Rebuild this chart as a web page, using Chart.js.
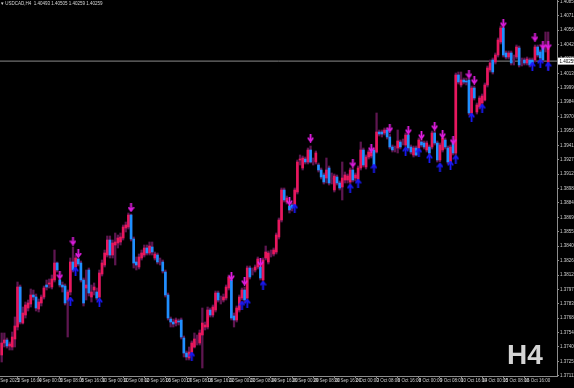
<!DOCTYPE html>
<html><head><meta charset="utf-8">
<script src="https://cdn.jsdelivr.net/npm/chart.js@4.4.1/dist/chart.umd.min.js"></script>
<style>
html,body{margin:0;padding:0;background:#000;width:574px;height:388px;overflow:hidden}
#wrap{position:relative;width:574px;height:388px;background:#000}
canvas{position:absolute;left:0;top:0}
#hdr{position:absolute;left:1px;top:1px;font-size:4.5px;font-family:"Liberation Sans Narrow","Liberation Sans",Arial,sans-serif;color:#d8d8d8;white-space:nowrap;line-height:5px}
#tf{position:absolute;left:507px;top:341px;font-weight:bold;font-size:28px;font-family:"Liberation Sans",Arial,sans-serif;line-height:28px;color:#d4d4d4}
</style></head><body>
<div id="wrap"><canvas id="c" width="574" height="388"></canvas>
<div id="hdr">▾ USDCAD,H4&nbsp; 1.40493 1.40505 1.40259 1.40259</div>
<div id="tf">H4</div></div>
<script>
const opens = [
1.3732,1.3744,1.3747,1.3741,1.3740,1.3748,1.3760,1.3800,1.3764,1.3772,
1.3779,1.3783,1.3792,1.3790,1.3778,1.3784,1.3790,1.3802,1.3803,1.3800,
1.3807,1.3824,1.3807,1.3802,1.3801,1.3787,1.3795,1.3825,1.3820,1.3828,
1.3824,1.3807,1.3799,1.3817,1.3790,1.3797,1.3795,1.3790,1.3813,1.3822,
1.3832,1.3847,1.3832,1.3842,1.3844,1.3845,1.3849,1.3859,1.3860,1.3872,
1.3848,1.3825,1.3820,1.3829,1.3832,1.3839,1.3834,1.3840,1.3829,1.3832,
1.3826,1.3825,1.3815,1.3792,1.3768,1.3765,1.3764,1.3766,1.3767,1.3749,
1.3734,1.3729,1.3735,1.3740,1.3746,1.3744,1.3752,1.3760,1.3760,1.3777,
1.3772,1.3777,1.3794,1.3788,1.3787,1.3789,1.3799,1.3807,1.3771,1.3767,
1.3777,1.3789,1.3797,1.3789,1.3819,1.3816,1.3817,1.3820,1.3820,1.3807,
1.3829,1.3825,1.3834,1.3833,1.3835,1.3850,1.3867,1.3897,1.3885,1.3881,
1.3882,1.3882,1.3895,1.3927,1.3919,1.3928,1.3925,1.3937,1.3926,1.3925,
1.3922,1.3917,1.3912,1.3909,1.3919,1.3908,1.3897,1.3910,1.3904,1.3900,
1.3907,1.3907,1.3905,1.3917,1.3909,1.3908,1.3919,1.3937,1.3920,1.3930,
1.3931,1.3937,1.3935,1.3955,1.3955,1.3954,1.3957,1.3950,1.3940,1.3938,
1.3939,1.3945,1.3945,1.3942,1.3952,1.3940,1.3932,1.3939,1.3939,1.3945,
1.3944,1.3937,1.3940,1.3940,1.3954,1.3944,1.3927,1.3937,1.3947,1.3939,
1.3925,1.3944,1.3934,1.4012,1.4002,1.4007,1.4006,1.4007,1.3974,1.3999,
1.3975,1.3980,1.3984,1.3987,1.4002,1.4017,1.4027,1.4025,1.4032,1.4045,
1.4059,1.4034,1.4030,1.4034,1.4027,1.4030,1.4039,1.4025,1.4027,1.4024,
1.4027,1.4027,1.4027,1.4040,1.4035,1.4039,1.4040,1.4025];
const highs = [
1.3754,1.3754,1.3749,1.3745,1.3755,1.3770,1.3805,1.3802,1.3780,1.3785,
1.3787,1.3798,1.3797,1.3793,1.3788,1.3792,1.3801,1.3807,1.3808,1.3812,
1.3837,1.3825,1.3808,1.3805,1.3803,1.3797,1.3829,1.3840,1.3832,1.3829,
1.3826,1.3809,1.3817,1.3819,1.3802,1.3804,1.3799,1.3817,1.3827,1.3837,
1.3851,1.3851,1.3847,1.3854,1.3852,1.3854,1.3862,1.3865,1.3874,1.3873,
1.3850,1.3830,1.3833,1.3837,1.3842,1.3842,1.3845,1.3845,1.3835,1.3834,
1.3829,1.3827,1.3817,1.3794,1.3770,1.3768,1.3769,1.3768,1.3769,1.3751,
1.3736,1.3740,1.3746,1.3754,1.3752,1.3757,1.3779,1.3765,1.3780,1.3779,
1.3782,1.3796,1.3796,1.3791,1.3793,1.3802,1.3812,1.3809,1.3774,1.3781,
1.3792,1.3799,1.3800,1.3821,1.3821,1.3819,1.3822,1.3830,1.3821,1.3829,
1.3841,1.3836,1.3837,1.3839,1.3854,1.3869,1.3899,1.3899,1.3891,1.3882,
1.3884,1.3899,1.3927,1.3932,1.3931,1.3930,1.3939,1.3941,1.3929,1.3936,
1.3924,1.3919,1.3914,1.3929,1.3921,1.3914,1.3913,1.3912,1.3906,1.3925,
1.3915,1.3913,1.3919,1.3919,1.3914,1.3921,1.3945,1.3939,1.3932,1.3937,
1.3936,1.3939,1.3974,1.3957,1.3957,1.3959,1.3959,1.3953,1.3942,1.3941,
1.3957,1.3947,1.3948,1.3954,1.3953,1.3942,1.3941,1.3941,1.3949,1.3948,
1.3946,1.3946,1.3942,1.3956,1.3956,1.3946,1.3944,1.3951,1.3949,1.3941,
1.3942,1.3945,1.4014,1.4015,1.4015,1.4009,1.4009,1.4008,1.4001,1.4001,
1.3984,1.3991,1.3993,1.4004,1.4021,1.4027,1.4029,1.4034,1.4049,1.4061,
1.4060,1.4036,1.4036,1.4036,1.4032,1.4042,1.4041,1.4029,1.4029,1.4030,
1.4029,1.4029,1.4042,1.4042,1.4037,1.4041,1.4055,1.4055];
const lows = [
1.3725,1.3740,1.3739,1.3737,1.3737,1.3740,1.3757,1.3763,1.3763,1.3769,
1.3776,1.3780,1.3787,1.3776,1.3775,1.3781,1.3788,1.3797,1.3799,1.3798,
1.3805,1.3815,1.3800,1.3795,1.3782,1.3750,1.3792,1.3815,1.3817,1.3821,
1.3805,1.3781,1.3787,1.3791,1.3785,1.3792,1.3787,1.3789,1.3811,1.3820,
1.3830,1.3829,1.3829,1.3822,1.3839,1.3842,1.3847,1.3855,1.3858,1.3846,
1.3819,1.3817,1.3818,1.3827,1.3830,1.3832,1.3832,1.3832,1.3827,1.3823,
1.3822,1.3814,1.3790,1.3767,1.3760,1.3760,1.3761,1.3762,1.3748,1.3730,
1.3727,1.3727,1.3734,1.3739,1.3742,1.3742,1.3719,1.3757,1.3758,1.3770,
1.3770,1.3775,1.3785,1.3783,1.3785,1.3787,1.3797,1.3767,1.3760,1.3765,
1.3775,1.3787,1.3784,1.3788,1.3808,1.3812,1.3815,1.3818,1.3807,1.3806,
1.3827,1.3823,1.3830,1.3831,1.3833,1.3848,1.3865,1.3885,1.3883,1.3874,
1.3876,1.3881,1.3893,1.3922,1.3917,1.3923,1.3923,1.3924,1.3922,1.3923,
1.3915,1.3908,1.3903,1.3904,1.3902,1.3903,1.3895,1.3902,1.3897,1.3887,
1.3904,1.3904,1.3903,1.3905,1.3906,1.3907,1.3917,1.3920,1.3918,1.3928,
1.3929,1.3921,1.3934,1.3951,1.3950,1.3952,1.3948,1.3938,1.3935,1.3935,
1.3934,1.3938,1.3942,1.3940,1.3937,1.3933,1.3930,1.3931,1.3938,1.3940,
1.3938,1.3935,1.3932,1.3938,1.3942,1.3925,1.3925,1.3935,1.3938,1.3923,
1.3923,1.3932,1.3932,1.4003,1.4000,1.4003,1.4002,1.3972,1.3972,1.3987,
1.3973,1.3978,1.3982,1.3986,1.4000,1.4015,1.4013,1.4023,1.4030,1.4043,
1.4030,1.4028,1.4028,1.4022,1.4022,1.4028,1.4020,1.4021,1.4022,1.4022,
1.4020,1.4021,1.4025,1.4030,1.4027,1.4025,1.4035,1.4017];
const closes = [
1.3744,1.3747,1.3741,1.3743,1.3750,1.3761,1.3800,1.3765,1.3774,1.3782,
1.3784,1.3792,1.3790,1.3779,1.3785,1.3790,1.3799,1.3800,1.3804,1.3808,
1.3824,1.3817,1.3802,1.3800,1.3784,1.3795,1.3825,1.3817,1.3829,1.3823,
1.3807,1.3784,1.3802,1.3794,1.3795,1.3800,1.3789,1.3814,1.3824,1.3834,
1.3847,1.3832,1.3844,1.3845,1.3849,1.3850,1.3860,1.3862,1.3872,1.3848,
1.3824,1.3822,1.3830,1.3834,1.3839,1.3834,1.3841,1.3835,1.3833,1.3825,
1.3826,1.3816,1.3792,1.3769,1.3765,1.3763,1.3767,1.3765,1.3750,1.3734,
1.3730,1.3735,1.3744,1.3748,1.3746,1.3754,1.3764,1.3762,1.3777,1.3772,
1.3780,1.3794,1.3787,1.3788,1.3790,1.3800,1.3810,1.3769,1.3767,1.3779,
1.3790,1.3797,1.3787,1.3819,1.3810,1.3816,1.3820,1.3828,1.3809,1.3827,
1.3835,1.3834,1.3834,1.3837,1.3852,1.3867,1.3897,1.3887,1.3889,1.3877,
1.3879,1.3897,1.3925,1.3928,1.3929,1.3925,1.3937,1.3925,1.3926,1.3934,
1.3917,1.3910,1.3905,1.3917,1.3904,1.3908,1.3911,1.3904,1.3899,1.3909,
1.3912,1.3911,1.3917,1.3907,1.3912,1.3919,1.3937,1.3922,1.3930,1.3935,
1.3935,1.3922,1.3955,1.3953,1.3953,1.3957,1.3950,1.3940,1.3937,1.3938,
1.3946,1.3940,1.3945,1.3952,1.3939,1.3935,1.3939,1.3932,1.3947,1.3942,
1.3940,1.3944,1.3934,1.3954,1.3944,1.3927,1.3942,1.3949,1.3940,1.3925,
1.3940,1.3934,1.4012,1.4005,1.4007,1.4005,1.4005,1.3974,1.3999,1.3989,
1.3982,1.3989,1.3991,1.4002,1.4019,1.4024,1.4015,1.4032,1.4047,1.4059,
1.4032,1.4030,1.4034,1.4024,1.4027,1.4040,1.4022,1.4025,1.4024,1.4028,
1.4022,1.4023,1.4040,1.4032,1.4029,1.4027,1.4040,1.4039];

const downArrowBars   = [22,27,29,49,87,92,98,109,117,133,140,147,154,159,164,167,171,177,179,190,202,205,207];
const downArrowPrices = [1.3812,1.3846,1.38335,1.38795,1.3811,1.3806,1.3825,1.3886,1.3949,1.3924,1.3939,1.3959,1.3957,1.3952,1.3961,1.3953,1.3947,1.4013,1.4007,1.4064,1.4050,1.4042,1.4042];
const upArrowBars     = [26,28,37,72,91,93,99,111,132,135,141,153,158,162,166,170,172,178,182,201,204,207];
const upArrowPrices   = [1.3786,1.3816,1.3785,1.3731,1.3782,1.3784,1.3802,1.3879,1.3899,1.3904,1.3919,1.3936,1.3935,1.3929,1.3920,1.3922,1.3928,1.3970,1.3979,1.4021,1.4024,1.4021];

const currentPrice = 1.40259;

const xTickBars = [-2,6,14,22,30,38,46,54,62,70,78,86,94,102,110,118,126,134,142,150,158,166,174,182,190,198];
const xTickLabels = ["1 Sep 2025","2 Sep 16:00","4 Sep 00:00","5 Sep 08:00","8 Sep 16:00","10 Sep 00:00","11 Sep 08:00","12 Sep 16:00","16 Sep 00:00","17 Sep 08:00","18 Sep 16:00","22 Sep 00:00","23 Sep 08:00","24 Sep 16:00","26 Sep 00:00","29 Sep 08:00","30 Sep 16:00","2 Oct 00:00","3 Oct 08:00","6 Oct 16:00","8 Oct 00:00","9 Oct 08:00","10 Oct 16:00","14 Oct 00:00","15 Oct 08:00","16 Oct 16:00"];
const yTickValues = [1.40856,1.40712,1.40568,1.40424,1.40280,1.40136,1.39992,1.39848,1.39704,1.39560,1.39416,1.39272,1.39128,1.38984,1.38840,1.38696,1.38552,1.38408,1.38264,1.38120,1.37976,1.37832,1.37688,1.37544,1.37400,1.37256,1.37112];

const X_MIN = -0.644, X_MAX = 210.34, Y_MIN = 1.3711, Y_MAX = 1.4087;
const BULL = '#e8175d', BEAR = '#1e90ff', WICK = '#5e1650';
const DOWN_COL = '#e81ee8', UP_COL = '#1a1aff';
const FONT = '"Liberation Sans Narrow","Liberation Sans",Arial,sans-serif';

function arrowImg(color, down) {
  const c = document.createElement('canvas');
  c.width = 7; c.height = 9;
  const g = c.getContext('2d');
  if (!down) { g.translate(0, 9); g.scale(1, -1); }
  g.fillStyle = color; g.strokeStyle = color; g.lineWidth = 1.6;
  g.fillRect(2.6, 0, 1.8, 6.5);
  g.beginPath(); g.moveTo(0.8, 4.2); g.lineTo(3.5, 8); g.lineTo(6.2, 4.2); g.stroke();
  return c;
}

const idx = opens.map((_, i) => i);

const priceBox = {
  id: 'priceBox',
  afterDraw(chart) {
    const {ctx, chartArea, scales} = chart;
    const py = scales.y.getPixelForValue(currentPrice);
    ctx.save();
    ctx.fillStyle = '#ffffff';
    ctx.fillRect(chartArea.right + 1, py - 3.5, 574 - chartArea.right - 1, 7);
    ctx.fillStyle = '#000000';
    ctx.font = '4.5px ' + FONT;
    ctx.textBaseline = 'middle'; ctx.textAlign = 'left';
    ctx.fillText(currentPrice.toFixed(5), chartArea.right + 2.5, py + 0.3);
    ctx.restore();
  }
};

new Chart(document.getElementById('c'), {
  type: 'bar',
  data: {
    datasets: [
      { type: 'line', data: [{x: X_MIN, y: currentPrice}, {x: X_MAX, y: currentPrice}],
        borderColor: '#8c8c8c', borderWidth: 1, pointRadius: 0, order: 5 },
      { data: idx.map(i => ({x: i, y: [lows[i], highs[i]]})), backgroundColor: WICK,
        barThickness: 1.6, grouped: false, borderWidth: 0, order: 4 },
      { data: idx.map(i => ({x: i, y: [opens[i], closes[i]]})),
        backgroundColor: idx.map(i => closes[i] > opens[i] ? BULL : (closes[i] < opens[i] ? BEAR : WICK)),
        barThickness: 2, minBarLength: 1, grouped: false, borderWidth: 0, order: 3 },
      { type: 'scatter', data: downArrowBars.map((b, k) => ({x: b, y: downArrowPrices[k]})),
        pointStyle: arrowImg(DOWN_COL, true), pointRadius: 4, order: 1 },
      { type: 'scatter', data: upArrowBars.map((b, k) => ({x: b, y: upArrowPrices[k]})),
        pointStyle: arrowImg(UP_COL, false), pointRadius: 4, order: 1 }
    ]
  },
  options: {
    responsive: false, animation: false, devicePixelRatio: 1,
    layout: { padding: 0, autoPadding: false },
    plugins: { legend: { display: false }, tooltip: { enabled: false } },
    scales: {
      x: {
        type: 'linear', min: X_MIN, max: X_MAX, bounds: 'data', offset: false, position: 'bottom',
        grid: { display: true, drawOnChartArea: false, drawTicks: true, tickLength: 2, color: '#8c8c8c', offset: false },
        border: { display: true, color: '#8c8c8c' },
        ticks: { autoSkip: false, maxRotation: 0, minRotation: 0, align: 'start', padding: 1,
          color: '#cfcfcf', font: { family: FONT, size: 4.5, lineHeight: 1 },
          callback: (v, i) => xTickLabels[i] },
        afterBuildTicks: s => { s.ticks = xTickBars.map(v => ({value: v})); },
        afterFit: s => { s.height = 12; s.paddingLeft = 0; s.paddingRight = 0; }
      },
      y: {
        type: 'linear', min: Y_MIN, max: Y_MAX, bounds: 'data', position: 'right',
        grid: { display: true, drawOnChartArea: false, drawTicks: true, tickLength: 2, color: '#8c8c8c' },
        border: { display: true, color: '#8c8c8c' },
        ticks: { autoSkip: false, crossAlign: 'near', padding: 1,
          color: '#cfcfcf', font: { family: FONT, size: 4.5, lineHeight: 1 },
          callback: v => Number(v).toFixed(5) },
        afterBuildTicks: s => { s.ticks = yTickValues.map(v => ({value: v})); },
        afterFit: s => { s.width = 17; s.paddingTop = 0; s.paddingBottom = 0; }
      }
    }
  },
  plugins: [priceBox]
});
</script>
</body></html>
